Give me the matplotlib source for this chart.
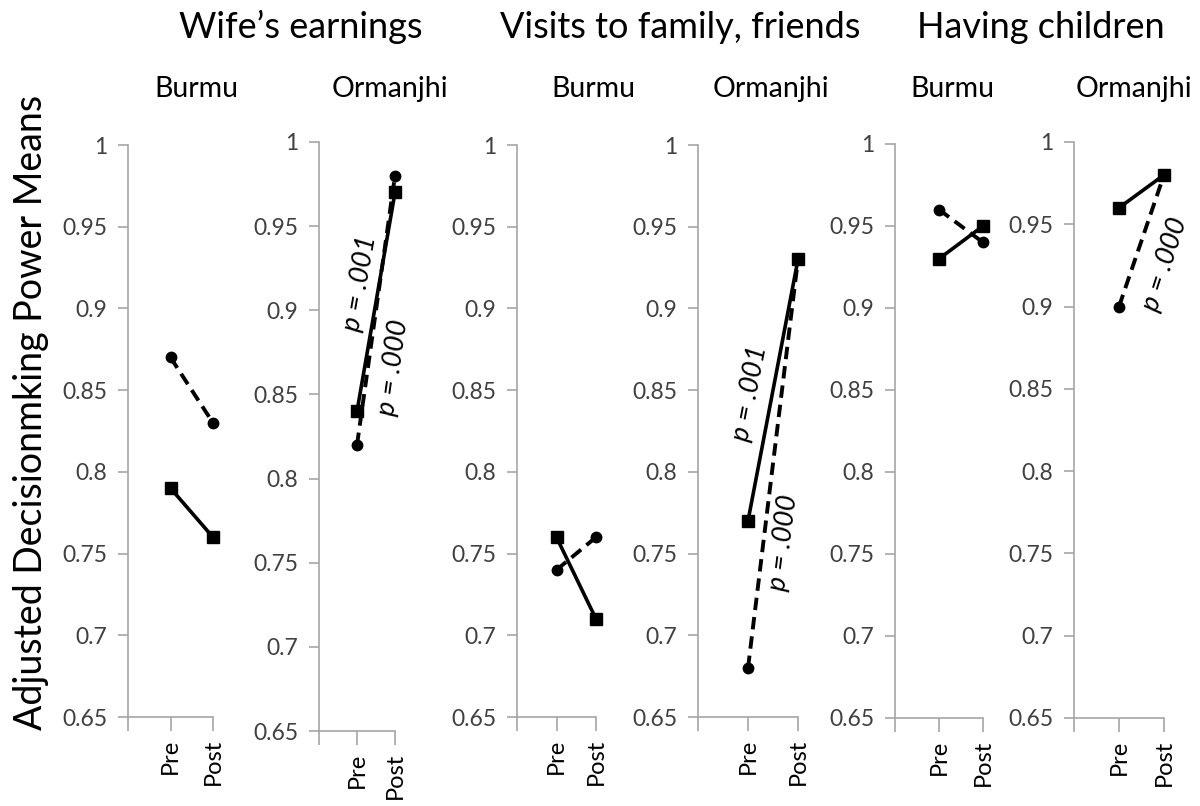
import matplotlib
matplotlib.use("Agg")
import matplotlib.pyplot as plt
from matplotlib.ticker import FixedLocator

plt.rcParams['font.family'] = ['Lato', 'DejaVu Sans']

# ---------------- data ----------------
group_titles = ["Wife\u2019s earnings", "Visits to family, friends", "Having children"]
panel_names = ["Burmu", "Ormanjhi", "Burmu", "Ormanjhi", "Burmu", "Ormanjhi"]
x_labels = ["", "Pre", "Post"]
y_ticks = [0.65, 0.7, 0.75, 0.8, 0.85, 0.9, 0.95, 1.0]

# solid line with squares
solid_pre = [0.79, 0.84, 0.76, 0.77, 0.93, 0.96]
solid_post = [0.76, 0.97, 0.71, 0.93, 0.95, 0.98]
# dashed line with circles
dashed_pre = [0.87, 0.82, 0.74, 0.68, 0.96, 0.90]
dashed_post = [0.83, 0.98, 0.76, 0.93, 0.94, 0.98]

# p-value annotations
p_panel = [1, 1, 3, 3, 5]
p_text = ["p = .001", "p = .000", "p = .001", "p = .000", "p = .000"]
p_x = [1.08, 1.95, 1.04, 1.70, 2.02]
p_y = [0.916, 0.866, 0.848, 0.7565, 0.926]
p_rot = [80, 82, 79, 83, 72]

# ---------------- layout ----------------
W, H = 1200, 806
fig = plt.figure(figsize=(W / 100, H / 100), dpi=100)

# pixel boxes: left, right, top, bottom
boxes = [
    (128, 213, 145, 717),
    (319, 395, 142, 731),
    (517, 596, 145, 717),
    (698, 798, 145, 717),
    (895, 983, 144, 718),
    (1074, 1164, 142, 718),
]
name_x = [196, 390, 593, 771, 952, 1134]
title_x = [301, 680, 1041]

axis_gray = "#a6a6a6"
tick_color = "#404040"

axes = []
for i, (l, r, t, b) in enumerate(boxes):
    ax = fig.add_axes([l / W, 1 - b / H, (r - l) / W, (b - t) / H])
    axes.append(ax)
    xs = [1, 2]
    ax.plot(xs, [solid_pre[i], solid_post[i]], color="black", lw=2.6,
            marker="s", ms=8, mfc="black", mec="black", clip_on=False, zorder=3)
    ax.plot(xs, [dashed_pre[i], dashed_post[i]], color="black", lw=2.8,
            linestyle=(0, (3.2, 1.8)), marker="o", ms=7.5, mfc="black", mec="black",
            clip_on=False, zorder=3)
    ax.set_xlim(0, 2)
    ax.set_ylim(0.65, 1.0)
    ax.yaxis.set_major_locator(FixedLocator(y_ticks))
    ax.set_yticklabels(["%g" % v for v in y_ticks])
    ax.set_xticks([0, 1, 2])
    ax.set_xticklabels(x_labels, rotation=90)
    for s in ["top", "right"]:
        ax.spines[s].set_visible(False)
    for s in ["left", "bottom"]:
        ax.spines[s].set_color(axis_gray)
        ax.spines[s].set_linewidth(1.2)
    ax.tick_params(axis="y", direction="out", length=7, width=1.2, color=axis_gray,
                   labelsize=16.5, labelcolor=tick_color, pad=8)
    ax.tick_params(axis="x", direction="out", length=10, width=1.2, color=axis_gray,
                   labelsize=17, labelcolor="black", pad=6)
    ax.set_facecolor("none")
    fig.text(name_x[i] / W, 1 - 97 / H, panel_names[i], ha="center", va="baseline",
             fontsize=20.5)

for k in range(len(p_text)):
    ax = axes[p_panel[k]]
    ax.text(p_x[k], p_y[k], p_text[k], rotation=p_rot[k], ha="center", va="center",
            fontsize=19.5, style="italic", rotation_mode="anchor", clip_on=False)

for k in range(3):
    fig.text(title_x[k] / W, 1 - 38 / H, group_titles[k], ha="center", va="baseline",
             fontsize=26)

fig.text(31 / W, 1 - 412 / H, "Adjusted Decisionmking Power Means", rotation=90,
         ha="center", va="center", fontsize=27)

fig.savefig("out.png", dpi=100)
